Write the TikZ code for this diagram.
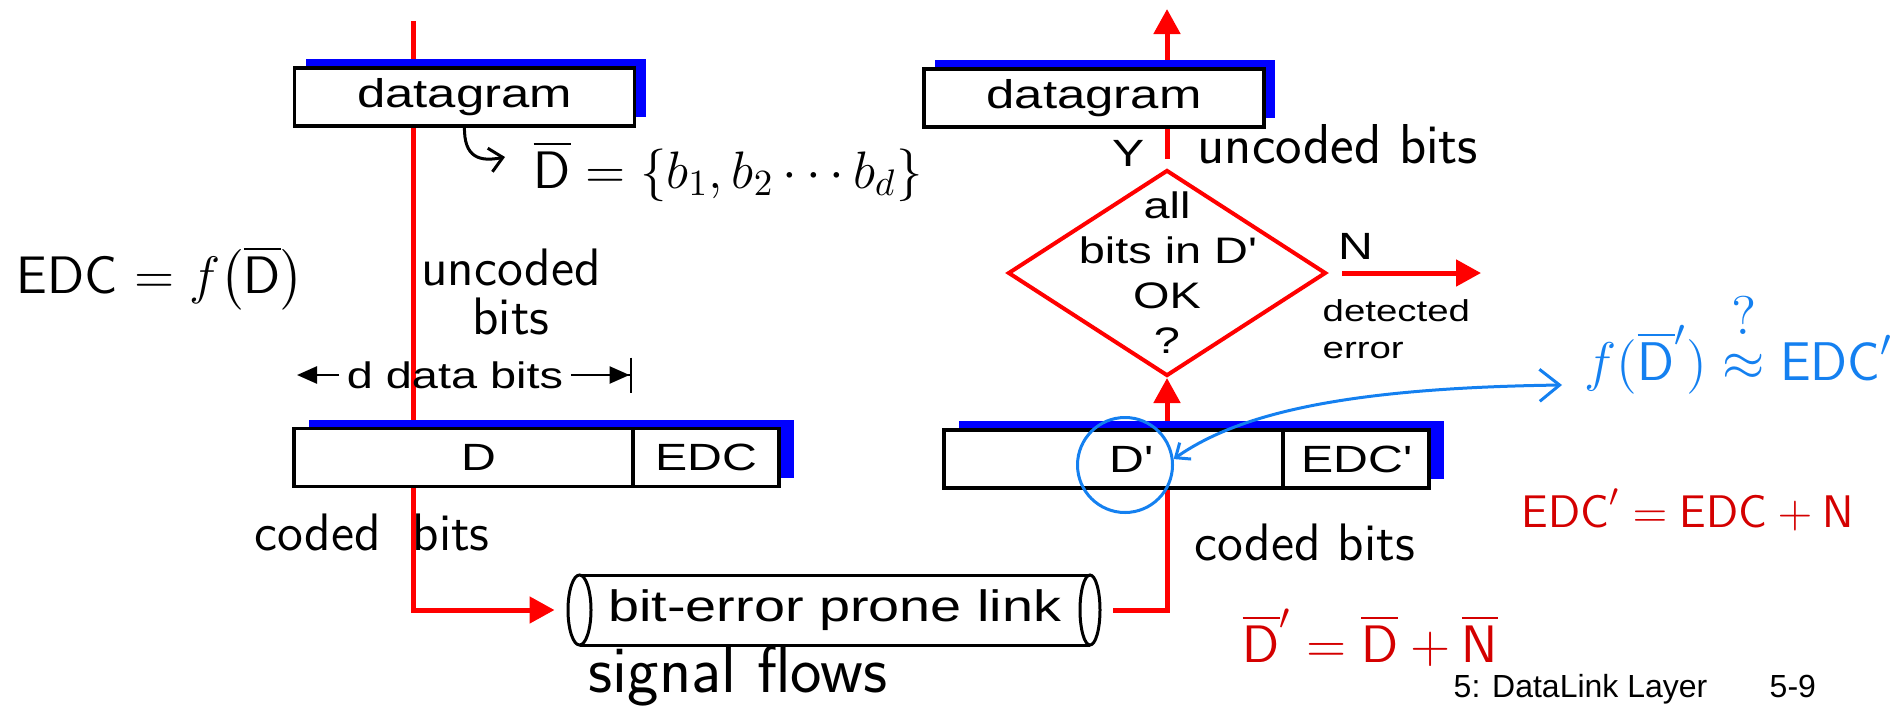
\RequirePackage{fix-cm}
\documentclass[tikz,border=0pt]{standalone}
\usepackage{fontspec}
\usepackage{amsmath}
\usetikzlibrary{positioning, arrows.meta, shapes.geometric, shadows, backgrounds}

\newfontfamily\slidefont[FakeStretch=1.27]{Liberation Sans}
\newfontfamily\footfont{Liberation Sans}
\newcommand{\fsz}[2]{\fontsize{#1}{#2}\selectfont}
\newcommand{\tick}{\textquotesingle}

\definecolor{flowred}{RGB}{255,0,0}
\definecolor{shadeblue}{RGB}{0,0,255}
\definecolor{inkred}{RGB}{212,0,0}
\definecolor{inkblue}{RGB}{20,128,240}

\begin{document}
\begin{tikzpicture}[
    x=0.1mm, y=-0.1mm,
    >={Triangle[length=2.5mm, width=2.6mm]},
    unitbox/.style={draw, line width=0.35mm, fill=white, inner sep=0pt, outer sep=0pt,
        minimum height=5.8mm, font=\slidefont\fsz{10.8}{13}},
    dgram/.style={unitbox, minimum width=34mm, font=\slidefont\fsz{11.4}{13},
        general shadow={fill=shadeblue, shadow xshift=1.1mm, shadow yshift=0.9mm}},
    cell/.style={unitbox,
        general shadow={fill=shadeblue, shadow xshift=1.5mm, shadow yshift=0.9mm}},
    decision/.style={diamond, draw=flowred, line width=0.4mm, inner sep=0pt,
        minimum width=31.8mm, minimum height=20.6mm},
    diatext/.style={align=center, inner sep=0pt, font=\slidefont\fsz{10.5}{12.8}},
    tag/.style={inner sep=0pt, font=\slidefont\fsz{10.8}{13}},
    linkbox/.style={inner sep=0pt, outer sep=0pt, minimum width=51.05mm,
        minimum height=7mm, font=\slidefont\fsz{12.5}{15}},
    tube/.style={line width=0.3mm},
    flow/.style={draw=flowred, line width=0.5mm, ->},
    dim/.style={line width=0.25mm},
    hand/.style={inner sep=0pt, font=\sffamily\fsz{15}{18}},
    ink/.style={inkblue, line width=0.3mm},
    ]

    \useasboundingbox (0,0) rectangle (1895,715);

    % sender side
    \node[dgram] (dgL) at (464.5,97) {datagram};
    \node[cell, minimum width=33.9mm] (dL) at (463.5,457.5) {\hspace{3mm}D};
    \node[cell, minimum width=14.6mm, right=0pt of dL] (edcL) {EDC};
    \node[tag, font=\slidefont\fsz{10.5}{13}, inner xsep=0.7mm] (dbits) at (455,375) {d data bits};
    \coordinate (dimL) at (297,375);
    \coordinate (dimR) at (632,375);
    \coordinate (inTop) at (413,21);

    % channel
    \node[linkbox] (link) at (834.75,610) {bit-error prone link};

    % receiver side
    \node[dgram] (dgR) at (1094,98) {datagram};
    \node[cell, minimum width=33.9mm] (dR) at (1113.5,459) {\hspace{3.5mm}D\tick};
    \node[cell, minimum width=14.6mm, right=0pt of dR] (edcR) {EDC\tick};
    \node[decision, label={[diatext]center:all\\bits in D\tick\\OK\\?}] (dia) at (1167,273) {};
    \node[tag] (ylbl) at (1129,153) {Y};
    \node[tag] (nlbl) at (1356,246) {N};
    \node[tag, font=\slidefont\fsz{8.6}{10.5}, align=left, anchor=west] (err) at (1322,329) {detected\\error};
    \coordinate (outTop) at (1167,9);
    \coordinate (errEnd) at (1481,273);

    % footer
    \node[inner sep=0pt, anchor=base west, font=\footfont\fsz{9.1}{11}] (ftitle) at (1453,697) {5: DataLink Layer};
    \node[inner sep=0pt, anchor=base west, font=\footfont\fsz{9.1}{11}] (fpage) at (1769,697) {5-9};

    % tube round the link text
    \draw[tube] (link.north west) -- (link.north east) (link.south west) -- (link.south east);
    \draw[tube] (link.west) ellipse [x radius=1.15mm, y radius=3.5mm];
    \draw[tube] (link.east) ellipse [x radius=1mm, y radius=3.5mm];

    % d data bits
    \draw[dim, -{Triangle[length=2mm, width=1.7mm]}] (dbits.west) -- (dimL);
    \draw[dim, -{Triangle[length=2mm, width=1.7mm] Bar[width=3.5mm]}] (dbits.east) -- (dimR);

    \begin{scope}[on background layer]
        \draw[flow] (inTop) |- ([xshift=-2.5mm]link.west);
        \draw[flow] ([xshift=2.3mm]link.east) -| (dia.south);
        \draw[flow] ([yshift=0.9mm]dia.north) -- (outTop);
        \draw[flow] ([xshift=1.4mm]dia.east) -- (errEnd);
    \end{scope}

    % handwritten notes
    \node[hand, anchor=base west] (edcf) at (16,293) {EDC $= f\bigl(\overline{\mathsf{D}}\bigr)$};
    \node[hand, anchor=base] (uncT) at (511,285) {uncoded};
    \node[hand, below=1.1mm of uncT] (uncB) {bits};
    \node[hand, anchor=base west] (dbar) at (533,188) {$\overline{\mathsf{D}} = \{b_1, b_2 \cdots b_d\}$};
    \node[hand, anchor=base west, font=\sffamily\fsz{16}{19}] (uncR) at (1197,163) {uncoded bits};
    \node[hand, anchor=base west] (codL) at (254,550) {coded\hspace{3.2mm}bits};
    \node[hand, anchor=base west] (codR) at (1194,560) {coded bits};
    \node[hand, anchor=base west, font=\sffamily\fsz{19}{22}] (sig) at (588,692) {signal flows};
    \node[hand, anchor=base west, font=\sffamily\fsz{15.5}{18}, inkblue] (fD) at (1584,380)
        {$f(\overline{\mathsf{D}}') \stackrel{\raisebox{0.4ex}{$\textstyle ?$}}{\approx} \mathsf{EDC}'$};
    \node[hand, anchor=base west, font=\sffamily\fsz{13}{15}, inkred] (edcN) at (1521,527) {$\mathsf{EDC}' = \mathsf{EDC} + \mathsf{N}$};
    \node[hand, anchor=base west, inkred] (dN) at (1242,662) {$\overline{\mathsf{D}}' = \overline{\mathsf{D}} + \overline{\mathsf{N}}$};

    \draw[line width=0.3mm, -{Straight Barb[length=1.3mm, width=2.4mm]}] (dgL.south)
        .. controls +(-1,32) and +(-25,5) .. ([xshift=-2.8mm, yshift=3.1mm]dbar.base west);

    \node[circle, ink, draw, minimum size=9.5mm, inner sep=0pt] (circ) at (1125,465) {};
    \draw[ink, {Straight Barb[length=1.2mm, width=2mm]}-{Straight Barb[length=2mm, width=3.2mm]}] (circ.7)
        .. controls +(63,-44) and +(-222,3) .. ([xshift=-2.2mm, yshift=-0.5mm]fD.base west);

\end{tikzpicture}
\end{document}
